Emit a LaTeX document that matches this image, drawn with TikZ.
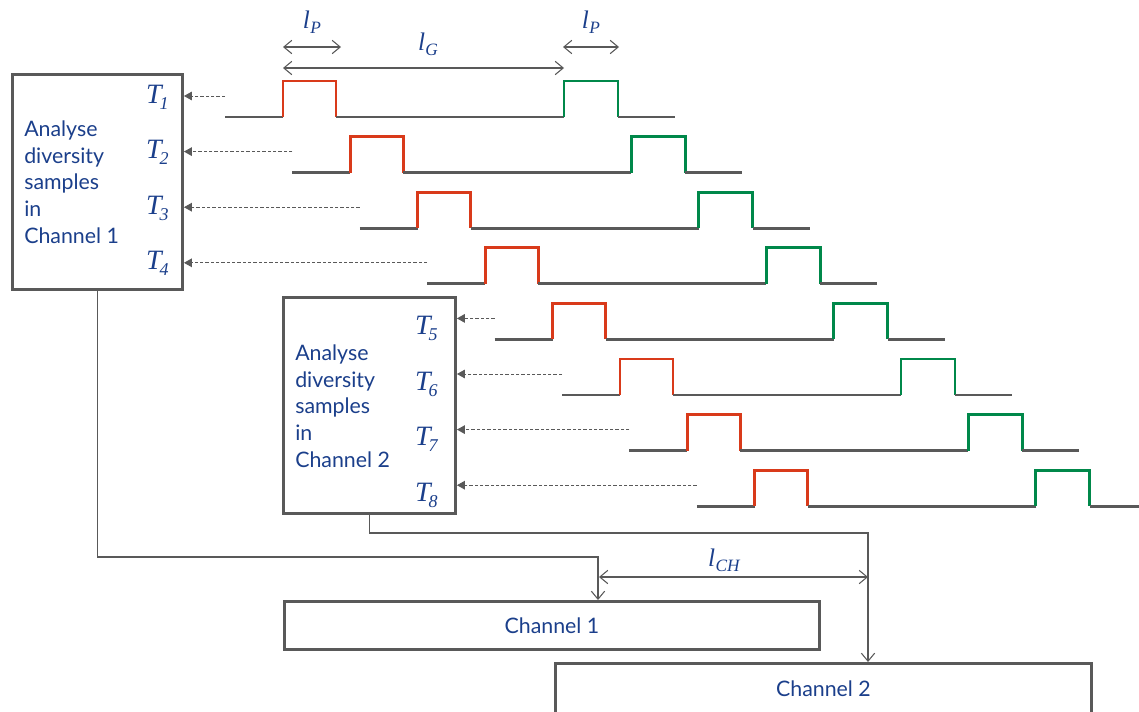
\documentclass[tikz,border=0pt]{standalone}
\usepackage{fontspec}
\setmainfont{Lato}
\newfontfamily\tfont{Liberation Serif}
\usetikzlibrary{arrows.meta,calc}
\definecolor{tblue}{HTML}{1B3F8B}
\definecolor{pred}{HTML}{D93A1A}
\definecolor{pgreen}{HTML}{00884A}
\definecolor{lgray}{HTML}{595959}
\newcommand{\Tl}[1]{{\fontsize{21}{21}\selectfont\tfont\itshape T\kern-1.5pt\raisebox{-4.5pt}{\fontsize{13.5}{13.5}\selectfont #1}}}
\newcommand{\Ll}[1]{{\fontsize{19}{19}\selectfont\tfont\itshape l\kern0.3pt\raisebox{-4pt}{\fontsize{13}{13}\selectfont #1}}}
\begin{document}
\begin{tikzpicture}[x=0.75pt,y=-0.75pt,
  box/.style={draw=lgray, line width=2.2pt, fill=white, inner sep=0pt, anchor=north west},
  lbl/.style={text=tblue, font=\fontsize{16}{20}\selectfont, align=left, inner sep=0pt},
  tl/.style={text=tblue, inner sep=0pt},
  base/.style={draw=lgray, line width=2pt},
  pr/.style={draw=pred, line width=2pt},
  pg/.style={draw=pgreen, line width=2pt},
  dsh/.style={draw=lgray, line width=0.75pt, dash pattern=on 2.5pt off 1.5pt, -{Triangle[length=6pt,width=6.5pt]}},
  dim/.style={draw=lgray, line width=0.8pt, {Straight Barb[length=6pt,width=10pt]}-{Straight Barb[length=6pt,width=10pt]}},
  conn/.style={draw=lgray, line width=0.8pt, -{Straight Barb[length=6pt,width=10pt]}}
]
\useasboundingbox (0,0) rectangle (1139,711);
\clip (0,0) rectangle (1139,711);

% pulse trains
\foreach \i [evaluate=\i as \xo using 225+67.4*(\i-1), evaluate=\i as \yb using 117+55.6*(\i-1)] in {1,...,8}{
  \coordinate (s\i) at (\xo,\yb-21);
  \draw[base] (\xo,\yb) -- (\xo+58,\yb);
  \draw[pr] (\xo+58,\yb) -- ++(0,-36) -- ++(53,0) -- ++(0,36);
  \draw[base] (\xo+111,\yb) -- (\xo+339,\yb);
  \draw[pg] (\xo+339,\yb) -- ++(0,-36) -- ++(54,0) -- ++(0,36);
  \draw[base] (\xo+393,\yb) -- (\xo+450,\yb);
}

% boxes
\node[box, minimum width=127.5pt, minimum height=161.25pt] (b1) at (11,73) {};
\node[box, minimum width=129pt, minimum height=162pt] (b2) at (282,296) {};
\node[box, minimum width=401.25pt, minimum height=36pt] (ch1) at (283,600) {};
\node[box, minimum width=402pt, minimum height=38pt] (ch2) at (554,662) {};

\node[lbl] (ch1t) at (ch1.center) {Channel 1};
\node[lbl] (ch2t) at (ch2.center) {Channel 2};
\node[lbl, anchor=west] (a1) at (24,182) {Analyse\\diversity\\samples\\in\\Channel 1};
\node[lbl, anchor=west] (a2) at (295,406) {Analyse\\diversity\\samples\\in\\Channel 2};

% T labels and dashed arrows
\foreach \i [evaluate=\i as \ya using 95+55.6*(\i-1)+8] in {1,...,4}{
  \node[tl, anchor=base east] (t\i) at (169,\ya) {\Tl{\i}};
  \draw[dsh] (s\i) -- (s\i -| b1.east);
}
\foreach \i [evaluate=\i as \ya using 95+55.6*(\i-1)+17] in {5,...,8}{
  \node[tl, anchor=base east] (t\i) at (438,\ya) {\Tl{\i}};
  \draw[dsh] (s\i) -- (s\i -| b2.east);
}

% dimension arrows at top
\coordinate (p1a) at (283,47); \coordinate (p1b) at (341,47);
\coordinate (p2a) at (563,47); \coordinate (p2b) at (619,47);
\coordinate (ga) at (283,68); \coordinate (gb) at (564,68);
\draw[dim] (p1a) -- (p1b);
\draw[dim] (p2a) -- (p2b);
\draw[dim] (ga) -- (gb);
\node[tl, anchor=base] (lp1) at (312,28) {\Ll{P}};
\node[tl, anchor=base] (lp2) at (591,28) {\Ll{P}};
\node[tl, anchor=base] (lg) at (428,50) {\Ll{G}};

% connectors to channels
\coordinate (k1) at (598,557);
\coordinate (k2) at (868,533);
\draw[conn] (b1.south) |- (k1) -- (k1 |- ch1.north);
\draw[conn] (b2.south) |- (k2) -- (k2 |- ch2.north);
\coordinate (ca) at (599,577); \coordinate (cb) at (868,577);
\draw[dim] (ca) -- (cb);
\node[tl, anchor=base] (lch) at (724,566) {\Ll{CH}};
\end{tikzpicture}
\end{document}
